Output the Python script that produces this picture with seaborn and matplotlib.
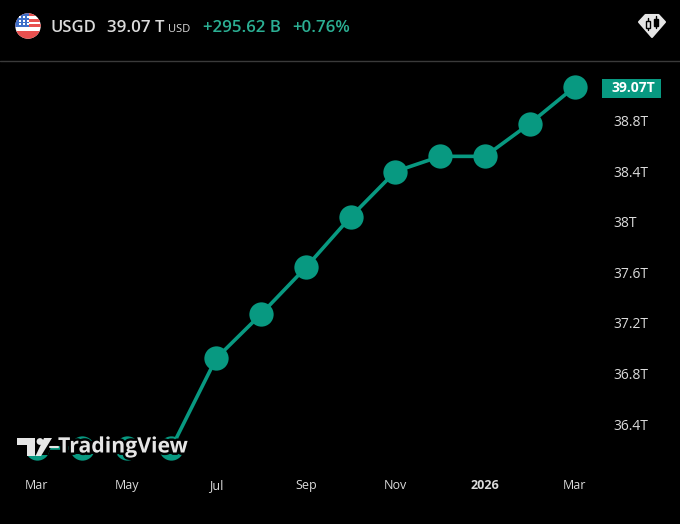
import matplotlib
matplotlib.use("Agg")
import matplotlib.pyplot as plt
import matplotlib.patheffects as pe
from matplotlib.patches import Circle, Polygon, Rectangle
import numpy as np
import pandas as pd
import seaborn as sns

months = ["Mar", "Apr", "May", "Jun", "Jul", "Aug", "Sep", "Oct", "Nov", "Dec", "2026", "Feb", "Mar"]
debt = [36.21, 36.21, 36.21, 36.21, 36.92, 37.27, 37.64, 38.04, 38.40, 38.52, 38.52, 38.78, 39.07]
y_ticks = [36.4, 36.8, 37.2, 37.6, 38.0, 38.4, 38.8]
y_labels = ["36.4T", "36.8T", "37.2T", "37.6T", "38T", "38.4T", "38.8T"]
x_tick_idx = [0, 2, 4, 6, 8, 10, 12]
last_label = "39.07T"

GREEN = "#089981"
TXT = "#DBDBDB"
W, H = 680, 524

sns.set_theme(style="dark", rc={"axes.facecolor": "black", "figure.facecolor": "black", "axes.grid": False})
plt.rcParams["font.family"] = ["Open Sans", "DejaVu Sans"]

fig = plt.figure(figsize=(W / 100, H / 100), dpi=100, facecolor="black")
ax = fig.add_axes([0, (H - 470) / H, 600 / W, (470 - 62) / H], facecolor="black")

df = pd.DataFrame({"i": np.arange(len(debt)), "v": debt})
sns.lineplot(data=df, x="i", y="v", ax=ax, color=GREEN, lw=2.6, marker="o", markersize=17.5,
             markeredgewidth=0, markerfacecolor=GREEN, clip_on=False, errorbar=None, sort=False)

x_per = 44.8
ax.set_xlim(-37 / x_per, (600 - 37) / x_per)
py = 126.25
ax.set_ylim(38.8 - (470 - 121) / py, 38.8 + (121 - 62) / py)
ax.set_xlabel("")
ax.set_ylabel("")
ax.set_xticks(x_tick_idx)
ax.set_xticklabels([months[i] for i in x_tick_idx], color=TXT, fontsize=9)
for lab in ax.get_xticklabels():
    if lab.get_text() == "2026":
        lab.set_fontweight("bold")
ax.yaxis.tick_right()
ax.set_yticks(y_ticks)
ax.set_yticklabels(y_labels, color=TXT, fontsize=10)
ax.tick_params(axis="both", length=0)
ax.tick_params(axis="x", pad=6.5)
ax.tick_params(axis="y", pad=9.4)
for s in ax.spines.values():
    s.set_visible(False)

# Overlay in pixel coordinates
ov = fig.add_axes([0, 0, 1, 1], facecolor="none")
ov.set_xlim(0, W)
ov.set_ylim(H, 0)
ov.axis("off")
ov.plot([0, W], [61, 61], color="#3a3a3a", lw=1)

# price tag
ov.add_patch(Rectangle((602, 79), 59, 19, color=GREEN, lw=0))
ov.text(633.5, 88, last_label, color="white", fontsize=10, fontweight="bold", ha="center", va="center")

# header flag
flag = Circle((28, 26), 12.7, color="white", lw=0)
ov.add_patch(flag)
for y0, h in [(13, 3), (18.5, 3.5), (24, 3), (31, 9)]:
    r = Rectangle((15, y0), 27, h, color="#E8504F", lw=0)
    r.set_clip_path(flag)
    ov.add_patch(r)
can = Rectangle((15, 13), 13.5, 14, color="#3F6FC8", lw=0)
can.set_clip_path(flag)
ov.add_patch(can)
ov.scatter([20, 24, 28, 20, 24, 28, 20, 24, 28], [17, 17, 17, 20.5, 20.5, 20.5, 24, 24, 24], s=3, color="white", lw=0, marker="s")

ov.text(50, 28, "USGD", color=TXT, fontsize=12, fontweight="semibold", va="center")
ov.text(107, 28, "39.07 T", color=TXT, fontsize=12.2, fontweight="semibold", va="center")
ov.text(168, 30, "USD", color=TXT, fontsize=8, va="center")
ov.text(203, 28, "+295.62 B", color="#2BAF93", fontsize=12.2, fontweight="semibold", va="center")
ov.text(292, 28, "+0.76%", color="#2BAF93", fontsize=12.2, fontweight="semibold", va="center")

# badge
ov.add_patch(Polygon([[639, 22], [645.5, 15], [658.5, 15], [665, 22], [652, 37]], closed=True,
                     facecolor="#E6E6E6", edgecolor="#E6E6E6", lw=1.5, joinstyle="round"))
for x0, top, bot_, hollow in [(648, 18, 30, True), (656, 16, 28, False)]:
    ov.plot([x0, x0], [top, bot_], color="black", lw=1)
    ov.add_patch(Rectangle((x0 - 2.2, top + 3), 4.4, 6.5, facecolor="#E6E6E6" if hollow else "black", edgecolor="black", lw=1, zorder=3))

# watermark
halo = [pe.withStroke(linewidth=3.5, foreground="black")]
ov.add_patch(Polygon([[15, 436], [55, 436], [48, 455], [15, 455]], closed=True, facecolor="black", edgecolor="black", lw=0, zorder=4))
ov.add_patch(Rectangle((70, 441), 110, 13, facecolor="black", lw=0, zorder=4))
ov.text(58, 447, "TradingView", color="#E6E6E6", fontsize=15.3, fontweight="bold", va="center", zorder=5, path_effects=halo)
logo_polys = [
    [[17, 438], [35, 438], [35, 456], [27, 456], [27, 445], [17, 445]],
    [[44, 438], [52, 438], [41, 456], [35.5, 456]],
]
for p in logo_polys:
    ov.add_patch(Polygon(p, closed=True, facecolor="#E6E6E6", edgecolor="black", lw=0, zorder=6))
ov.add_patch(Circle((40, 441.5), 3.4, color="#E6E6E6", lw=0, zorder=6))
ov.plot([50, 58], [447, 447], color="#E6E6E6", lw=1.5, zorder=6)

fig.savefig("out.png", dpi=100, facecolor="black")
